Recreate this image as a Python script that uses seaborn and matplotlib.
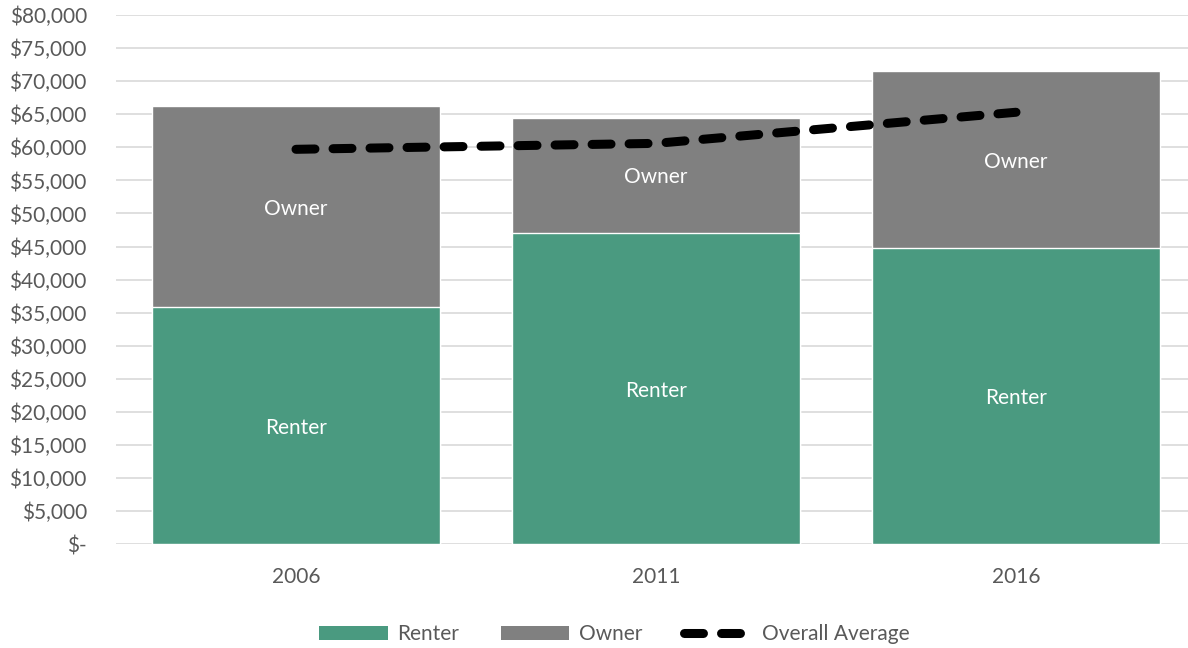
import matplotlib
matplotlib.use("Agg")
import matplotlib.pyplot as plt
from matplotlib.patches import Patch
from matplotlib.lines import Line2D
from matplotlib.ticker import FuncFormatter
import numpy as np
import pandas as pd
import seaborn as sns

years = ["2006", "2011", "2016"]
renter = [35850, 47000, 44750]
owner = [30350, 17500, 26800]
overall_avg = [59700, 60600, 65300]

RENTER_C = "#4A9A80"
OWNER_C = "#808080"
TEXT_C = "#595959"
GRID_C = "#D9D9D9"
FS = 15

sns.set_theme(style="white")
plt.rcParams["font.family"] = ["Lato", "DejaVu Sans"]

df = pd.DataFrame({"year": years, "renter": renter, "owner": owner,
                   "avg": overall_avg})
df["total"] = df["renter"] + df["owner"]

fig = plt.figure(figsize=(11.88, 6.48), dpi=100)
ax = fig.add_axes([116 / 1188, 103.7 / 648, 1072 / 1188, (544.3 - 15) / 648])

# stacked bars: full total in owner colour, renter portion drawn over it
sns.barplot(data=df, x="year", y="total", color=OWNER_C, saturation=1,
            width=0.8, ax=ax, zorder=2)
sns.barplot(data=df, x="year", y="renter", color=RENTER_C, saturation=1,
            width=0.8, ax=ax, zorder=3)

xpos = np.arange(len(years))
sns.lineplot(x=xpos, y=df["avg"], ax=ax, color="black", lw=6.5, zorder=4,
             dashes=False)
ln = ax.lines[-1]
ln.set_dashes((2.1, 2.0))
ln.set_dash_capstyle("round")

for i in range(len(years)):
    r = df["renter"][i]
    o = df["owner"][i]
    ax.text(i, r / 2, "Renter", ha="center", va="center_baseline",
            color="white", fontsize=FS, zorder=5)
    ax.text(i, r + o / 2, "Owner", ha="center", va="center_baseline",
            color="white", fontsize=FS, zorder=5)

ax.set_ylim(0, 80000)
ax.set_xlim(-0.5, -0.5 + 1072 / 360)
ax.set_yticks(np.arange(0, 80001, 5000))
ax.yaxis.set_major_formatter(FuncFormatter(
    lambda v, p: "$-" if v == 0 else f"${v:,.0f}"))
ax.grid(axis="y", color=GRID_C, lw=1.2, zorder=0)
ax.set_axisbelow(True)
for s in ax.spines.values():
    s.set_visible(False)
ax.tick_params(axis="both", length=0, colors=TEXT_C, labelsize=FS)
ax.tick_params(axis="y", pad=21)
ax.tick_params(axis="x", pad=16)
ax.set_xlabel("")
ax.set_ylabel("")

handles = [
    Patch(facecolor=RENTER_C, edgecolor="none", label="Renter"),
    Patch(facecolor=OWNER_C, edgecolor="none", label="Owner"),
    Line2D([0], [0], color="black", lw=6.5, dashes=(2.1, 2.0),
           dash_capstyle="round", label="Overall Average"),
]
leg = fig.legend(handles=handles, loc="center", bbox_to_anchor=(0.517, 0.021),
                 ncol=3, frameon=False, fontsize=FS, handlelength=3.3,
                 handleheight=0.6, columnspacing=2.0, handletextpad=0.45)
for t in leg.get_texts():
    t.set_color(TEXT_C)

fig.savefig("out.png", dpi=100)
